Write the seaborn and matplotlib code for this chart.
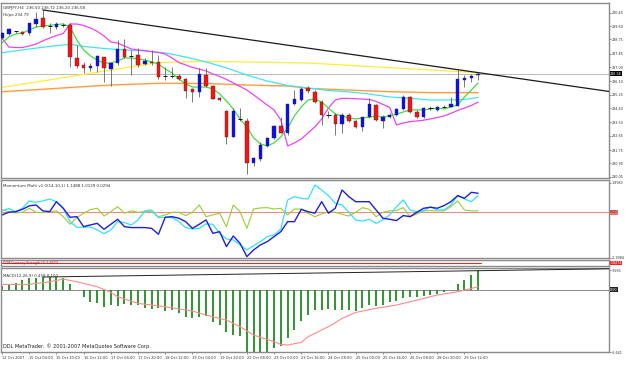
import numpy as np
import matplotlib
matplotlib.use("Agg")
import matplotlib.pyplot as plt
import seaborn as sns

# GBPJPY H4 candles, one per bar (bar 0 = 12 Oct 2007)
opens = [238.87, 239.10, 239.24, 239.23, 239.15, 239.73, 240.10, 239.63, 239.53, 239.67,
         239.67, 237.56, 237.14, 236.97, 237.10, 237.63, 236.89, 237.25, 238.13, 237.73,
         237.77, 237.20, 237.35, 237.35, 236.44, 236.44, 236.44, 236.23, 235.60, 235.41,
         236.51, 235.81, 235.03, 234.25, 232.60, 233.70, 233.61, 230.92, 231.17, 232.03,
         232.50, 233.28, 232.82, 234.67, 234.92, 235.66, 235.45, 234.78, 233.98, 233.97,
         233.40, 233.97, 233.61, 233.20, 233.83, 234.61, 233.61, 233.83, 233.97, 234.34,
         235.10, 234.15, 233.83, 234.40, 234.29, 234.46, 234.50, 234.56, 236.19, 236.30,
         236.50]
highs = [239.25, 239.46, 239.31, 239.31, 239.82, 240.49, 240.62, 239.80, 239.88, 239.77,
         239.78, 238.41, 237.35, 237.29, 237.77, 237.67, 237.35, 238.72, 238.77, 238.09,
         238.20, 237.56, 238.09, 237.77, 237.03, 237.03, 236.55, 236.29, 235.66, 236.93,
         236.93, 235.87, 235.09, 234.29, 234.40, 234.42, 233.77, 231.34, 232.28, 232.60,
         233.34, 233.87, 234.67, 235.56, 235.73, 235.81, 235.56, 234.92, 234.23, 234.08,
         234.08, 234.08, 233.66, 233.87, 235.03, 234.67, 233.97, 234.08, 234.40, 235.24,
         235.18, 234.29, 234.46, 234.54, 234.54, 234.61, 235.13, 236.82, 236.51, 236.57,
         236.72]
lows = [238.77, 239.06, 239.15, 239.06, 239.06, 239.56, 239.46, 239.17, 239.40, 239.56,
        237.03, 236.93, 236.61, 236.78, 236.72, 236.08, 235.81, 237.14, 237.56, 236.51,
        237.03, 237.14, 237.14, 236.23, 236.19, 236.29, 236.19, 235.07, 234.82, 235.13,
        235.73, 234.97, 234.88, 232.14, 232.57, 233.61, 230.24, 230.75, 231.08, 231.97,
        232.44, 232.80, 232.71, 234.61, 234.88, 235.35, 234.71, 233.34, 233.78, 232.71,
        232.82, 233.55, 233.13, 232.98, 233.77, 233.61, 233.13, 233.77, 233.91, 234.29,
        234.12, 233.77, 233.77, 234.29, 234.25, 234.40, 234.46, 234.54, 235.73, 236.08,
        236.20]
closes = [239.15, 239.40, 239.26, 239.12, 239.78, 240.05, 239.56, 239.62, 239.73, 239.66,
          237.63, 237.10, 236.97, 237.10, 237.71, 236.93, 237.25, 238.13, 237.67, 237.72,
          237.14, 237.39, 237.29, 236.40, 236.43, 236.43, 236.25, 235.51, 235.41, 236.55,
          235.83, 234.99, 234.92, 232.60, 234.25, 233.69, 230.92, 231.23, 232.08, 232.50,
          233.28, 232.82, 234.65, 234.97, 235.60, 235.51, 234.78, 233.97, 233.96, 233.39,
          233.97, 233.61, 233.20, 233.83, 234.65, 233.66, 233.87, 233.97, 234.34, 235.10,
          234.15, 233.83, 234.40, 234.41, 234.46, 234.47, 234.65, 236.25, 236.34, 236.44,
          236.58]

# moving averages on the price window
green_ma = [238.53, 238.91, 239.10, 239.16, 239.35, 239.54, 239.61, 239.64, 239.70, 239.73,
            239.54, 238.72, 238.09, 237.71, 237.45, 237.26, 237.26, 237.39, 237.58, 237.58,
            237.52, 237.45, 237.33, 237.20, 236.88, 236.63, 236.25, 235.93, 235.74, 235.74,
            235.74, 235.62, 235.30, 234.86, 234.35, 233.72, 233.21, 232.52, 232.14, 232.01,
            232.20, 232.58, 233.15, 233.91, 234.48, 234.92, 234.98, 234.79, 234.41, 234.03,
            233.91, 233.78, 233.72, 233.78, 233.84, 233.91, 233.84, 233.91, 234.03, 234.16,
            234.29, 234.29, 234.29, 234.35, 234.41, 234.35, 234.48, 234.61, 235.11, 235.55,
            236.00]
hipo = [238.84, 238.27, 238.24, 238.24, 238.34, 238.46, 238.66, 238.84, 239.00, 239.13,
        239.73, 239.73, 239.64, 239.48, 239.26, 238.97, 238.59, 238.53, 238.34, 238.15,
        238.09, 238.05, 237.98, 237.93, 237.83, 237.58, 237.29, 237.14, 236.98, 236.88,
        236.76, 236.57, 236.41, 236.22, 236.00, 235.77, 235.55, 235.24, 234.92, 234.60,
        234.29, 233.65, 232.01, 232.20, 232.45, 232.83, 233.21, 233.72, 234.41, 234.92,
        235.02, 235.02, 235.00, 234.98, 234.95, 234.83, 234.64, 234.45, 233.34, 233.46,
        233.55, 233.59, 233.64, 233.72, 233.81, 233.91, 234.07, 234.26, 234.41, 234.57,
        234.79]
cyan_bars = [0, 3, 6, 9, 10, 12, 15, 18, 21, 24, 27, 30, 33, 36, 39, 42, 45, 48, 51, 54,
             57, 60, 63, 66, 68, 70]
cyan_ma = [237.91, 238.09, 238.26, 238.40, 238.45, 238.31, 238.18, 238.09, 238.02, 237.90,
           237.64, 237.33, 236.95, 236.50, 236.12, 235.84, 235.68, 235.52, 235.43, 235.30,
           235.11, 235.02, 234.92, 234.92, 234.95, 235.08]
yellow_bars = [0, 6, 12, 18, 23, 30, 36, 45, 54, 63, 70]
yellow_ma = [235.72, 236.12, 236.54, 236.95, 237.29, 237.36, 237.33, 237.26, 237.04, 236.82,
             236.65]
orange_bars = [0, 6, 12, 16, 23, 30, 36, 42, 45, 51, 57, 63, 70]
orange_ma = [235.45, 235.60, 235.77, 235.87, 235.98, 235.97, 235.87, 235.81, 235.66, 235.55,
             235.45, 235.39, 235.39]
trend_bars = [6, 89.4]
trend_prices = [240.62, 235.45]
last_price = 236.58

price_ticks = [240.45, 239.60, 238.75, 237.85, 237.00, 236.10, 235.25, 234.40, 233.50,
               232.65, 231.75, 230.90, 230.05]

# Momentum Multi (three lines)
mom_blue = [-0.17, 0.00, 0.04, 0.19, 0.41, 0.47, 0.09, 0.04, 0.68, 0.26,
            -0.32, -0.28, -0.92, -0.81, -0.71, -1.09, -0.77, -0.45, -0.92, -0.98,
            -0.98, -0.98, -1.03, -1.41, -0.32, -0.28, -0.38, -0.60, -1.03, -0.77,
            -0.49, -1.35, -1.24, -2.20, -1.52, -1.99, -2.84, -2.41, -2.09, -1.88,
            -1.56, -1.24, -0.60, -0.60, 0.19, 0.04, -0.06, 0.68, -0.06, 0.26,
            1.43, 1.00, 0.68, 0.68, 0.68, 0.15, -0.38, -0.45, -0.53, -0.21,
            -0.28, 0.00, 0.26, 0.32, 0.26, 0.43, 0.68, 1.07, 0.90, 1.28,
            1.22]
mom_cyan = [0.09, 0.24, 0.04, 0.26, 0.73, 0.64, 0.73, 0.85, 0.68, 0.26,
            -0.60, -0.96, -0.96, -0.94, -1.13, -1.37, -1.13, -0.60, -0.66, -0.81,
            -0.49, 0.09, 0.15, -0.34, -0.32, -0.34, -0.60, -0.98, -1.07, -1.03,
            -0.75, -0.77, -1.35, -1.71, -1.77, -2.09, -2.41, -2.14, -1.88, -1.56,
            -1.45, -1.07, 0.79, 1.00, 0.90, 0.85, 1.75, 1.43, 1.07, 0.58,
            0.47, 0.00, -0.49, -0.56, -0.45, -0.71, -0.49, -0.17, 0.36, 0.79,
            0.15, 0.04, 0.11, 0.36, 0.15, 0.15, 0.47, 1.07, 0.85, 0.68,
            1.07]
mom_olive = [0.15, 0.04, -0.04, 0.00, 0.26, 0.00, -0.02, 0.04, 0.09, -0.28,
             -0.77, -0.34, -0.06, 0.17, 0.26, -0.24, 0.04, 0.36, -0.06, 0.09,
             0.00, 0.04, 0.04, -0.28, -0.17, 0.00, 0.00, -0.21, 0.00, 0.47,
             -0.28, -0.17, -0.06, -0.92, 0.47, 0.04, -1.03, 0.21, 0.28, 0.30,
             0.21, 0.26, -0.17, 0.21, 0.21, -0.06, -0.28, -0.11, 0.04, 0.00,
             -0.13, -0.24, 0.00, 0.30, 0.19, -0.28, 0.00, 0.09, 0.11, 0.30,
             -0.28, -0.11, 0.09, 0.11, 0.09, 0.09, 0.36, 0.73, 0.15, 0.09,
             0.09]

# MACD(12,26,9)
macd_hist = [0.41, 0.55, 0.65, 1.00, 1.17, 1.24, 1.31, 1.31, 1.27, 1.24,
             0.55, -0.05, -0.72, -1.24, -1.41, -1.75, -1.58, -1.65, -1.51, -1.58,
             -1.58, -1.92, -2.03, -1.92, -2.20, -2.10, -2.44, -2.78, -2.96, -2.78,
             -2.68, -3.30, -3.64, -4.33, -4.67, -4.78, -6.39, -6.46, -6.56, -6.39,
             -6.05, -5.77, -5.02, -4.16, -3.23, -2.61, -2.10, -2.10, -2.03, -2.10,
             -2.10, -2.10, -2.20, -1.92, -1.58, -1.68, -1.58, -1.24, -1.13, -0.82,
             -0.72, -0.72, -0.65, -0.55, -0.48, -0.27, -0.02, 0.55, 1.00, 1.51,
             2.03]
signal_bars = [0, 2, 4, 7, 9, 11, 14, 16, 17, 20, 22, 24, 28, 30, 33, 35, 37, 40, 41, 42,
               44, 45, 48, 50, 52, 55, 58, 61, 64, 67, 70]
signal_vals = [0.55, 0.55, 0.55, 0.82, 1.10, 0.82, 0.31, -0.27, -0.72, -1.41, -1.58, -1.75,
               -2.20, -2.61, -3.13, -3.81, -4.67, -5.36, -5.64, -5.70, -5.43, -4.85, -3.81,
               -2.96, -2.34, -1.92, -1.58, -1.07, -0.55, -0.21, 0.31]
macd_line_bars = [6, 89.4]
macd_line_vals = [1.31, 2.16]

date_labels = ["12 Oct 2007", "15 Oct 04:00", "15 Oct 20:00", "16 Oct 12:00",
               "17 Oct 04:00", "17 Oct 20:00", "18 Oct 12:00", "19 Oct 04:00",
               "19 Oct 20:00", "22 Oct 08:00", "23 Oct 00:00", "23 Oct 16:00",
               "24 Oct 08:00", "25 Oct 00:00", "25 Oct 16:00", "26 Oct 08:00",
               "28 Oct 20:00", "29 Oct 12:00"]

sns.set_theme(style="white")
plt.rcParams["font.family"] = ["DejaVu Sans"]

W, H = 625, 365
fig = plt.figure(figsize=(W / 100, H / 100), dpi=100)
fig.patch.set_facecolor("white")


def panel(top, bottom):
    return fig.add_axes([1 / W, 1 - bottom / H, 608 / W, (bottom - top) / H])


ax = panel(3, 178)
ax_mom = panel(180, 258)
ax_thin = panel(260, 266)
ax_macd = panel(268, 352)

bars = np.arange(len(closes))
xlim = (-0.15, 89.25)
grey = "#8a8a8a"
lab_fs = 2.45

for a in (ax, ax_mom, ax_thin, ax_macd):
    a.set_xlim(*xlim)
    a.set_facecolor("white")
    for s in a.spines.values():
        s.set_color(grey)
        s.set_linewidth(1.0)
    a.yaxis.tick_right()
    a.tick_params(axis="y", labelsize=lab_fs, length=1.2, width=0.4, pad=0.6,
                  colors="#333333")
    a.tick_params(axis="x", bottom=False, labelbottom=False)
    a.grid(False)

# ---- price panel ----
ax.set_ylim(229.98, 241.06)
ax.axhline(last_price, color="#b0b0b0", lw=0.6, zorder=1)
sns.lineplot(x=orange_bars, y=np.array(orange_ma) - 0.04, ax=ax, color="#ffc89a",
             lw=0.8, linestyle=(0, (1, 1)), legend=False, zorder=2)
sns.lineplot(x=orange_bars, y=orange_ma, ax=ax, color="#ff9a3c", lw=0.9, legend=False, zorder=2)
sns.lineplot(x=yellow_bars, y=yellow_ma, ax=ax, color="#ffee33", lw=0.9, legend=False, zorder=2)
sns.lineplot(x=cyan_bars, y=cyan_ma, ax=ax, color="#3ee6f5", lw=0.9, legend=False, zorder=2)
sns.lineplot(x=bars, y=hipo, ax=ax, color="#ee44ee", lw=0.9, legend=False, zorder=2)
sns.lineplot(x=bars, y=green_ma, ax=ax, color="#44dd44", lw=0.9, legend=False, zorder=2)
ax.plot(trend_bars, trend_prices, color="#1a1a1a", lw=0.9, zorder=4)

o = np.array(opens)
c = np.array(closes)
ax.vlines(bars, lows, highs, color="#555555", lw=0.55, zorder=3)
doji = np.abs(c - o) < 0.03
up = (c >= o) & ~doji
dn = (c < o) & ~doji
ax.bar(bars[up], (c - o)[up], bottom=o[up], width=0.5, color="#0a0aff",
       edgecolor="#333333", linewidth=0.3, zorder=3)
ax.bar(bars[dn], (c - o)[dn], bottom=o[dn], width=0.5, color="#ff1010",
       edgecolor="#333333", linewidth=0.3, zorder=3)
ax.hlines(c[doji], bars[doji] - 0.3, bars[doji] + 0.3, color="#111111", lw=0.7, zorder=3)

ax.set_yticks(price_ticks)
ax.set_yticklabels([f"{p:.2f}" for p in price_ticks])
ax.text(1.002, last_price, f"{last_price:.2f}", transform=ax.get_yaxis_transform(),
        fontsize=lab_fs, color="white", va="center", ha="left",
        bbox=dict(boxstyle="square,pad=0.12", fc="black", ec="none"), zorder=6,
        clip_on=False)
ax.text(0.003, 0.985, "GBPJPY,H4  236.50 236.72 236.20 236.58", transform=ax.transAxes,
        fontsize=2.9, color="#333333", va="top", ha="left")
ax.text(0.003, 0.945, "Hi/po 234.79", transform=ax.transAxes,
        fontsize=2.9, color="#333333", va="top", ha="left")

# ---- momentum panel ----
ax_mom.set_ylim(-2.93, 2.07)
ax_mom.axhline(0, color="#ff6a6a", lw=0.6, zorder=1)
sns.lineplot(x=bars, y=mom_olive, ax=ax_mom, color="#9acd32", lw=0.8, legend=False)
sns.lineplot(x=bars, y=mom_cyan, ax=ax_mom, color="#33e0ff", lw=0.9, legend=False)
sns.lineplot(x=bars, y=mom_blue, ax=ax_mom, color="#1f1fd6", lw=1.0, legend=False)
ax_mom.set_yticks([1.8983, -2.9084])
ax_mom.set_yticklabels(["1.8983", "-2.9084"])
ax_mom.text(1.002, 0, "0.00", transform=ax_mom.get_yaxis_transform(), fontsize=lab_fs,
            color="#333333", va="center", ha="left", clip_on=False,
            bbox=dict(boxstyle="square,pad=0.1", fc="#ff7070", ec="none"))
ax_mom.text(0.003, 0.95, "Momentum Multi v1.0(14,10,1) 1.1488 1.0129 0.0294",
            transform=ax_mom.transAxes, fontsize=2.9, color="#333333", va="top", ha="left")

# ---- thin panel ----
ax_thin.set_ylim(0, 1)
ax_thin.set_yticks([])
ax_thin.axhline(0.45, xmax=(70.5 - xlim[0]) / (xlim[1] - xlim[0]), color="#ff2020", lw=0.8)
ax_thin.text(0.003, 0.5, "CCM Currency Strength (1) 1.8474", transform=ax_thin.transAxes,
             fontsize=2.3, color="#cc0000", va="center", ha="left")
ax_thin.text(1.002, 0.5, "1.8474", transform=ax_thin.transAxes, fontsize=2.3,
             color="white", va="center", ha="left", clip_on=False,
             bbox=dict(boxstyle="square,pad=0.08", fc="#ff2020", ec="none"))

# ---- MACD panel ----
ax_macd.set_ylim(-6.42, 2.24)
ax_macd.axhline(0, color="#777777", lw=0.6, zorder=1)
ax_macd.vlines(bars, 0, macd_hist, color="#1e8c1e", lw=1.3, zorder=2)
sns.lineplot(x=signal_bars, y=signal_vals, ax=ax_macd, color="#ff8a8a", lw=0.8,
             legend=False, zorder=3)
ax_macd.plot(macd_line_bars, macd_line_vals, color="#222222", lw=0.7, zorder=3)
ax_macd.set_yticks([2.03, -6.42])
ax_macd.set_yticklabels(["3.556", "-6.641"])
ax_macd.text(1.002, 0, "0.00", transform=ax_macd.get_yaxis_transform(), fontsize=lab_fs,
             color="white", va="center", ha="left", clip_on=False,
             bbox=dict(boxstyle="square,pad=0.1", fc="#222222", ec="none"))
ax_macd.text(0.003, 0.93, "MACD(12,26,9) 0.458 0.100", transform=ax_macd.transAxes,
             fontsize=2.9, color="#333333", va="top", ha="left")
ax_macd.text(0.004, 0.03, "DDL MetaTrader, \u00a9 2001-2007 MetaQuotes Software Corp.",
             transform=ax_macd.transAxes, fontsize=3.6, color="#222222",
             va="bottom", ha="left")

ax_macd.tick_params(axis="x", bottom=True, labelbottom=True, length=1.5, width=0.4,
                    labelsize=2.6, pad=1.5, colors="#333333")
ax_macd.set_xticks(bars[::4])
ax_macd.set_xticklabels(date_labels, ha="left")

fig.savefig("out.png", dpi=100, facecolor="white")
